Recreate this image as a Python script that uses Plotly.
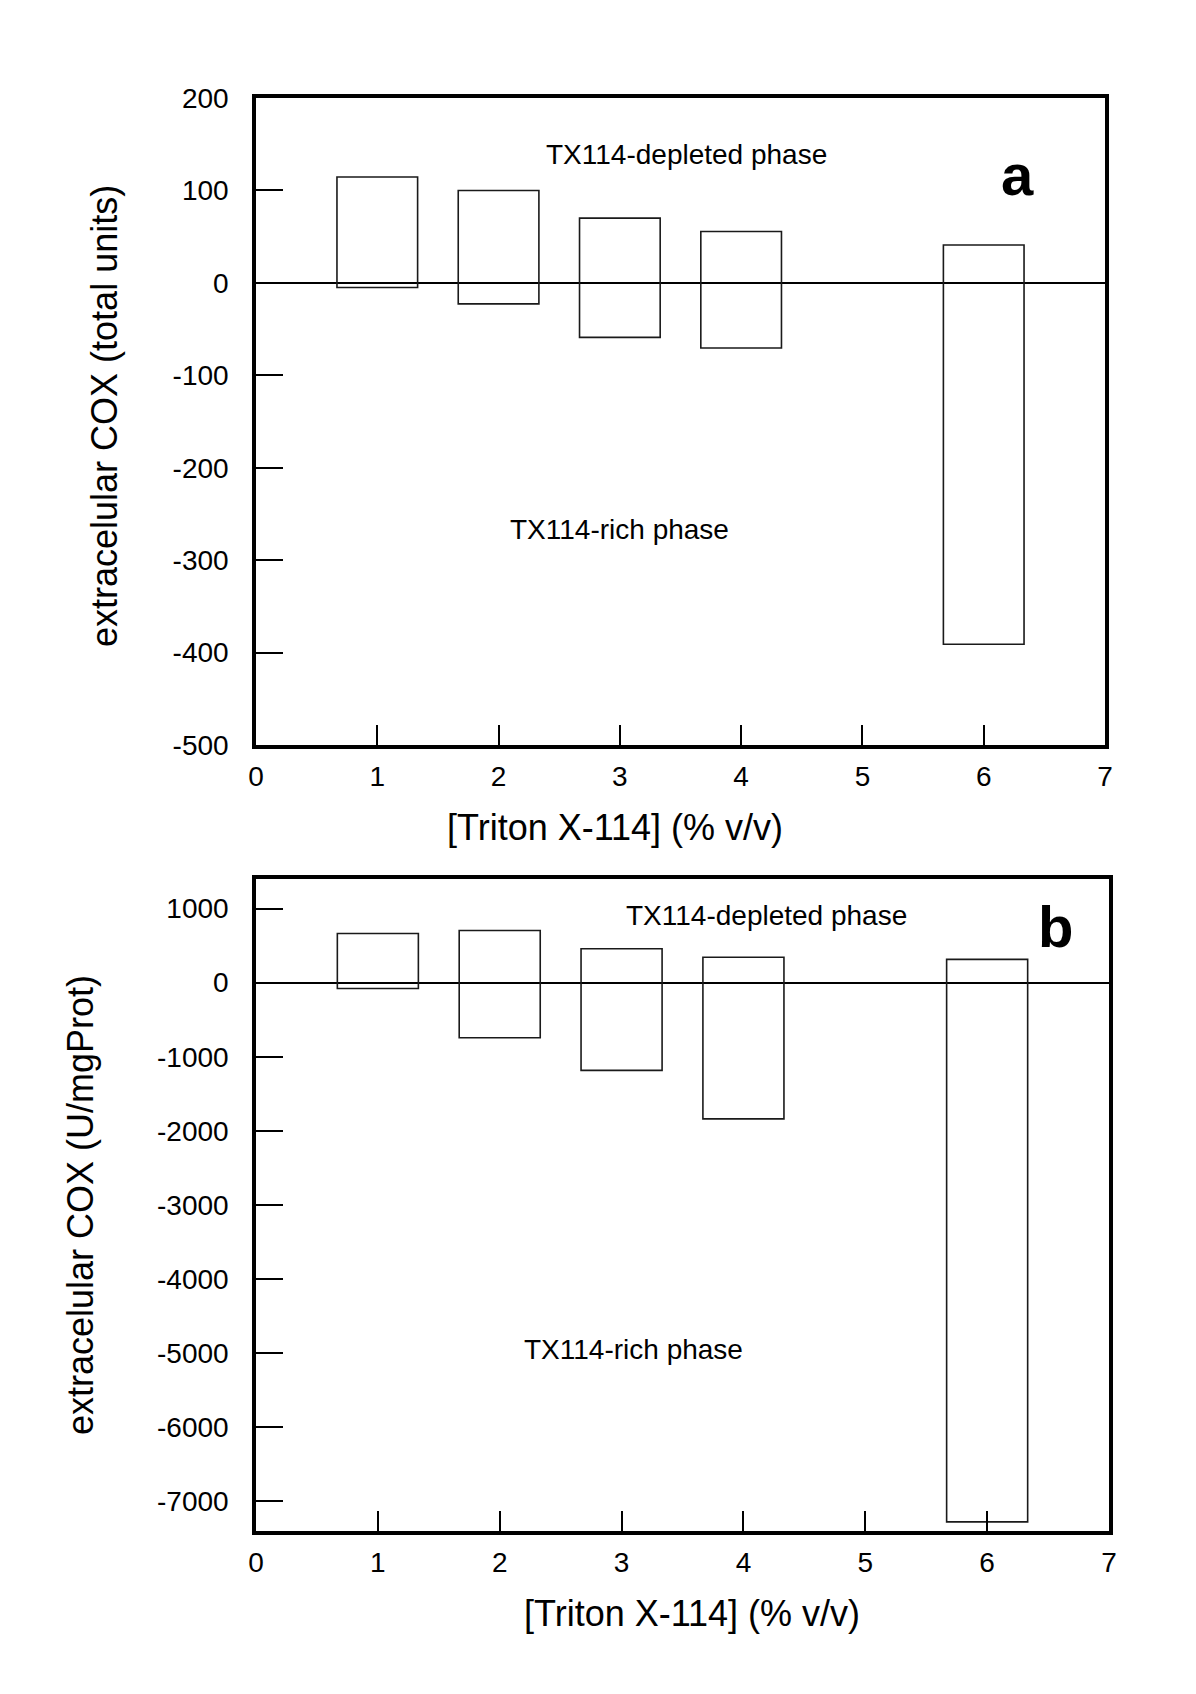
import plotly.graph_objects as go

# ---- data ----
concentration = [1, 2, 3, 4, 6]

# panel a: extracellular COX (total units)
a_depleted = [114.5, 100, 70, 55.5, 41]
a_rich = [-5, -22.7, -59, -70.5, -391]

# panel b: extracellular COX (U/mgProt)
b_depleted = [665, 705, 458, 343, 315]
b_rich = [-78, -744, -1185, -1839, -7282]

x_ticks = [0, 1, 2, 3, 4, 5, 6, 7]
a_yticks = [200, 100, 0, -100, -200, -300, -400, -500]
a_yticktext = ["200", "100", "0", "-100", "-200", "-300", "-400", "-500"]
b_yticks = [1000, 0, -1000, -2000, -3000, -4000, -5000, -6000, -7000]
b_yticktext = ["1000", "0", "-1000", "-2000", "-3000", "-4000", "-5000", "-6000", "-7000"]

OFF = 8  # page body margin
W, H = 1196 - 2 * OFF, 1694 - 2 * OFF
FONT = "Liberation Sans, Arial, sans-serif"


def px_x(p):
    return (p - OFF) / W


def px_y(p):
    return 1 - (p - OFF) / H


fig = go.Figure()

for depl, rich, xa, ya in [(a_depleted, a_rich, "x", "y"), (b_depleted, b_rich, "x2", "y2")]:
    fig.add_trace(go.Bar(
        x=concentration,
        y=[d - r for d, r in zip(depl, rich)],
        base=rich,
        width=0.665,
        marker=dict(color="rgba(0,0,0,0)", line=dict(color="#1a1a1a", width=1.6)),
        xaxis=xa, yaxis=ya,
        showlegend=False,
    ))

common_x = dict(
    range=[0, 7], tickvals=x_ticks, ticktext=[str(v) for v in x_ticks],
    ticks="inside", ticklen=20, tickwidth=1.5, tickcolor="black",
    showline=True, linecolor="black", linewidth=3.5, mirror=True,
    showgrid=False, zeroline=False,
    tickfont=dict(family=FONT, size=28, color="black"),
    ticklabelstandoff=4,
    automargin=False, fixedrange=True,
)
common_y = dict(
    ticks="inside", ticklen=27, tickwidth=1.5, tickcolor="black",
    showline=True, linecolor="black", linewidth=3.5, mirror=True,
    showgrid=False, zeroline=True, zerolinecolor="black", zerolinewidth=1.5,
    tickfont=dict(family=FONT, size=28, color="black"),
    ticklabelstandoff=18,
    automargin=False, fixedrange=True,
)

fig.update_layout(
    width=W, height=H,
    margin=dict(l=0, r=0, t=0, b=0),
    paper_bgcolor="white", plot_bgcolor="white",
    barmode="overlay",
    xaxis=dict(common_x, domain=[px_x(256), px_x(1105)], anchor="y"),
    yaxis=dict(common_y, domain=[px_y(745), px_y(98)], anchor="x",
               range=[-500, 200], tickvals=a_yticks, ticktext=a_yticktext),
    xaxis2=dict(common_x, domain=[px_x(256), px_x(1109)], anchor="y2"),
    yaxis2=dict(common_y, domain=[px_y(1531), px_y(879)], anchor="x2",
                range=[-7405, 1400], tickvals=b_yticks, ticktext=b_yticktext),
)

ann = []
txt_font = dict(family=FONT, size=28, color="black")
title_font = dict(family=FONT, size=36, color="black")
label_font = dict(family=FONT, size=58, color="black")


def add(text, x, y, font, angle=0):
    ann.append(dict(text=text, x=px_x(x), y=px_y(y), xref="paper", yref="paper",
                    xanchor="center", yanchor="middle", showarrow=False,
                    font=font, textangle=angle))


add("TX114-depleted phase", 686, 155, txt_font)
add("TX114-rich phase", 619, 529, txt_font)
add("TX114-depleted phase", 766, 915, txt_font)
add("TX114-rich phase", 633, 1349, txt_font)
add("<b>a</b>", 1017, 174, label_font)
add("<b>b</b>", 1055, 926, label_font)
add("[Triton X-114] (% v/v)", 615, 827, title_font)
add("[Triton X-114] (% v/v)", 692, 1613, title_font)
add("extracelular COX (total units)", 104, 416, title_font, -90)
add("extracelular COX (U/mgProt)", 80, 1205, title_font, -90)

fig.update_layout(annotations=ann)

fig.write_html("out.html")
